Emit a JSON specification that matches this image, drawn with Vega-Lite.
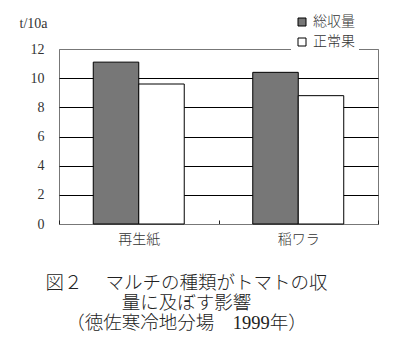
{
  "$schema": "https://vega.github.io/schema/vega-lite/v6.json",
  "width": 319,
  "height": 175,
  "autosize": {"type": "none"},
  "padding": {"left": 59, "top": 49, "right": 22, "bottom": 122},
  "background": "white",
  "title": {
    "text": ["図２　 マルチの種類がトマトの収", "量に及ぼす影響", "（徳佐寒冷地分場　1999年）"],
    "orient": "bottom",
    "anchor": "middle",
    "font": "Liberation Serif, Noto Sans CJK JP",
    "fontSize": 18.5,
    "fontWeight": 300,
    "color": "#222",
    "lineHeight": 20,
    "offset": 28,
    "dx": -32
  },
  "data": {
    "values": [
      {"mulch": "再生紙", "type": "総収量", "value": 11.1},
      {"mulch": "再生紙", "type": "正常果", "value": 9.6},
      {"mulch": "稲ワラ", "type": "総収量", "value": 10.4},
      {"mulch": "稲ワラ", "type": "正常果", "value": 8.8}
    ]
  },
  "config": {
    "view": {"stroke": "#777", "strokeWidth": 1},
    "font": "Liberation Serif, Noto Sans CJK JP"
  },
  "mark": {"type": "bar", "stroke": "black", "strokeWidth": 1},
  "encoding": {
    "x": {
      "field": "mulch",
      "type": "nominal",
      "sort": ["再生紙", "稲ワラ"],
      "scale": {"paddingInner": 0, "paddingOuter": 0},
      "axis": {
        "title": null,
        "labelAngle": 0,
        "labelFontSize": 14,
        "labelFontWeight": 300,
        "labelColor": "#333",
        "labelPadding": 12,
        "domainColor": "#777",
        "tickBand": "extent",
        "tickSize": -4,
        "tickColor": "#222"
      }
    },
    "xOffset": {
      "field": "type",
      "sort": ["総収量", "正常果"],
      "scale": {"paddingInner": 0, "paddingOuter": 0.753}
    },
    "y": {
      "field": "value",
      "type": "quantitative",
      "scale": {"domain": [0, 12], "nice": false},
      "axis": {
        "values": [0, 2, 4, 6, 8, 10, 12],
        "title": "t/10a",
        "titleAngle": 0,
        "titleAlign": "left",
        "titleBaseline": "middle",
        "titleX": -40,
        "titleY": -26,
        "titleFontSize": 14,
        "titleFontWeight": "normal",
        "titleColor": "#333",
        "labelFontSize": 14,
        "labelColor": "#333",
        "labelPadding": 15,
        "ticks": false,
        "domain": false,
        "grid": true,
        "gridColor": {"condition": {"test": "datum.value == 0 || datum.value == 12", "value": "#777"}, "value": "black"},
        "gridOpacity": 1,
        "gridWidth": 1
      }
    },
    "fill": {
      "field": "type",
      "type": "nominal",
      "scale": {"domain": ["総収量", "正常果"], "range": ["#777777", "#ffffff"]},
      "legend": {
        "title": null,
        "orient": "none",
        "legendX": 232,
        "legendY": -38,
        "padding": 4,
        "fillColor": "white",
        "symbolType": "square",
        "symbolSize": 64,
        "symbolStrokeColor": "black",
        "symbolStrokeWidth": 1,
        "labelFontSize": 14,
        "labelFontWeight": 300,
        "labelColor": "#333",
        "rowPadding": 6,
        "labelOffset": 4
      }
    }
  }
}
